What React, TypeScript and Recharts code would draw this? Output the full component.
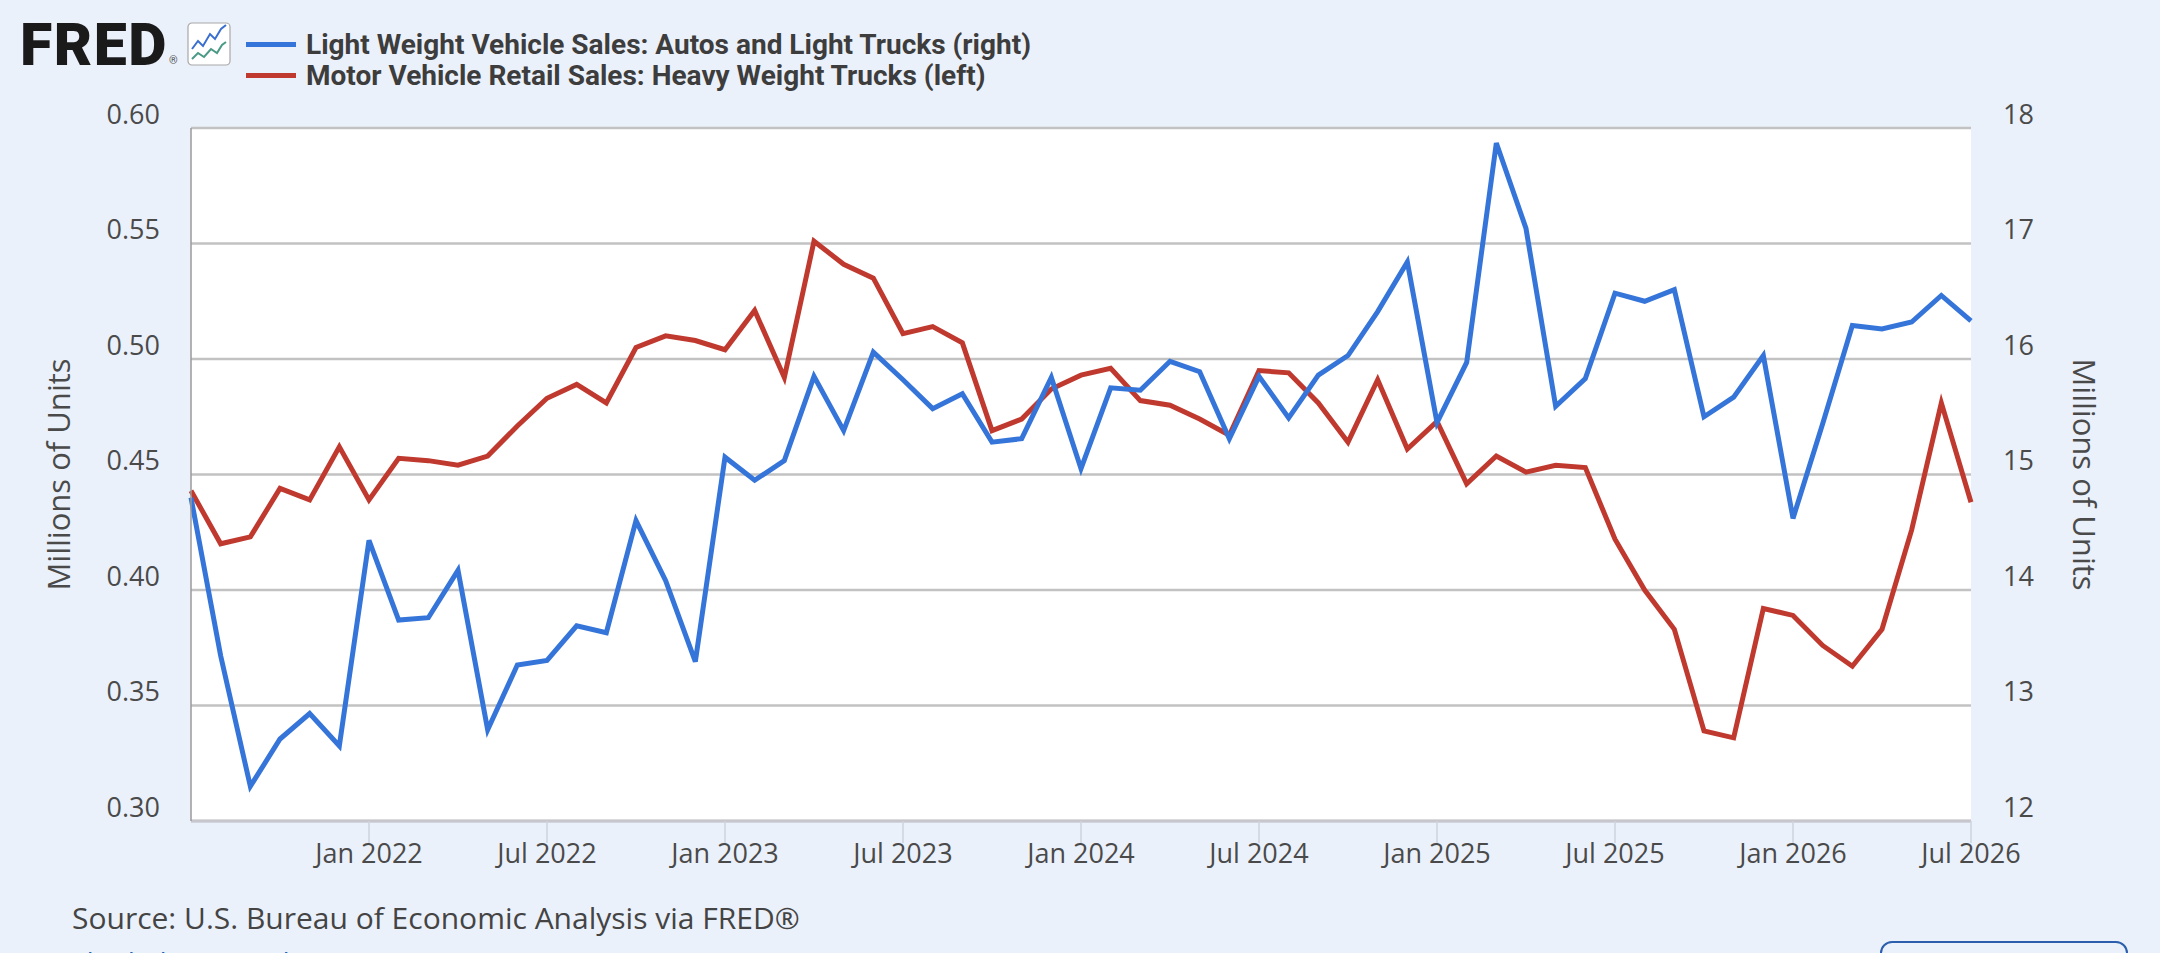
import { LineChart, Line, XAxis, YAxis, CartesianGrid, Label } from 'recharts';

const months = [
  'Jul 2021', 'Aug 2021', 'Sep 2021', 'Oct 2021', 'Nov 2021', 'Dec 2021',
  'Jan 2022', 'Feb 2022', 'Mar 2022', 'Apr 2022', 'May 2022', 'Jun 2022',
  'Jul 2022', 'Aug 2022', 'Sep 2022', 'Oct 2022', 'Nov 2022', 'Dec 2022',
  'Jan 2023', 'Feb 2023', 'Mar 2023', 'Apr 2023', 'May 2023', 'Jun 2023',
  'Jul 2023', 'Aug 2023', 'Sep 2023', 'Oct 2023', 'Nov 2023', 'Dec 2023',
  'Jan 2024', 'Feb 2024', 'Mar 2024', 'Apr 2024', 'May 2024', 'Jun 2024',
  'Jul 2024', 'Aug 2024', 'Sep 2024', 'Oct 2024', 'Nov 2024', 'Dec 2024',
  'Jan 2025', 'Feb 2025', 'Mar 2025', 'Apr 2025', 'May 2025', 'Jun 2025',
  'Jul 2025', 'Aug 2025', 'Sep 2025', 'Oct 2025', 'Nov 2025', 'Dec 2025',
  'Jan 2026', 'Feb 2026', 'Mar 2026', 'Apr 2026', 'May 2026', 'Jun 2026',
  'Jul 2026',
];

// Motor Vehicle Retail Sales: Heavy Weight Trucks (left axis, millions)
const heavyTrucks = [
  0.443, 0.420, 0.423, 0.444, 0.439, 0.462, 0.439, 0.457, 0.456, 0.454,
  0.458, 0.471, 0.483, 0.489, 0.481, 0.505, 0.510, 0.508, 0.504, 0.521,
  0.492, 0.551, 0.541, 0.535, 0.511, 0.514, 0.507, 0.469, 0.474, 0.487,
  0.493, 0.496, 0.482, 0.480, 0.474, 0.467, 0.495, 0.494, 0.481, 0.464,
  0.491, 0.461, 0.473, 0.446, 0.458, 0.451, 0.454, 0.453, 0.422, 0.400,
  0.383, 0.339, 0.336, 0.392, 0.389, 0.376, 0.367, 0.383, 0.426, 0.481,
  0.438,
];

// Light Weight Vehicle Sales: Autos and Light Trucks (right axis, millions)
const lightVehicles = [
  14.80, 13.43, 12.30, 12.71, 12.93, 12.65, 14.43, 13.74, 13.76, 14.17,
  12.79, 13.35, 13.39, 13.69, 13.63, 14.60, 14.08, 13.38, 15.15, 14.95,
  15.12, 15.85, 15.38, 16.06, 15.82, 15.57, 15.70, 15.28, 15.31, 15.84,
  15.05, 15.75, 15.73, 15.98, 15.89, 15.31, 15.85, 15.49, 15.86, 16.03,
  16.41, 16.84, 15.45, 15.97, 17.87, 17.13, 15.59, 15.83, 16.57, 16.50,
  16.60, 15.50, 15.67, 16.03, 14.62, 15.44, 16.29, 16.26, 16.32, 16.55,
  16.33,
];

const xTickLabels = [
  'Jan 2022', 'Jul 2022', 'Jan 2023', 'Jul 2023', 'Jan 2024',
  'Jul 2024', 'Jan 2025', 'Jul 2025', 'Jan 2026', 'Jul 2026',
];
const leftTicks = [0.30, 0.35, 0.40, 0.45, 0.50, 0.55, 0.60];
const rightTicks = [12, 13, 14, 15, 16, 17, 18];

const BLUE = '#3575d9';
const RED = '#c0392f';
const TEXT = '#4a4a4a';
const AXIS_FONT = '"Open Sans", sans-serif';

const data = months.map((month, i) => ({
  i,
  month,
  heavy: heavyTrucks[i],
  light: lightVehicles[i],
}));

const YTick = (props: any) => {
  const { x, y, payload, textAnchor, fmt } = props;
  return (
    <text x={x} y={y - 14} dy="0.36em" textAnchor={textAnchor} fill={TEXT} fontSize={27} fontFamily={AXIS_FONT}>
      {fmt(payload.value)}
    </text>
  );
};

// recharts hands its own angle/offset to label content, so use other prop names
const AxisTitle = (props: any) => {
  const { viewBox, title, shiftX, turn } = props;
  const cx = viewBox.x + shiftX;
  const cy = viewBox.y + viewBox.height / 2;
  return (
    <text
      x={cx}
      y={cy}
      transform={`rotate(${turn}, ${cx}, ${cy})`}
      textAnchor="middle"
      dominantBaseline="central"
      fill={TEXT}
      fontSize={31}
      fontFamily={AXIS_FONT}
    >
      {title}
    </text>
  );
};

const legendItems = [
  { label: 'Light Weight Vehicle Sales: Autos and Light Trucks (right)', color: BLUE },
  { label: 'Motor Vehicle Retail Sales: Heavy Weight Trucks (left)', color: RED },
];

function FredIcon() {
  return (
    <svg width={44} height={44} viewBox="0 0 44 44" style={{ position: 'absolute', left: 187, top: 22 }}>
      <rect x={1} y={1} width={42} height={42} rx={4} fill="#fff" stroke="#a8a8a8" strokeWidth={1.2} />
      <polyline points="5,27 11,19 16,24 23,12 28,17 34,7 39,3" fill="none" stroke="#3a6fd0" strokeWidth={2} />
      <polyline points="5,37 11,31 17,35 24,27 30,31 35,23 39,20" fill="none" stroke="#4a9a86" strokeWidth={2} />
    </svg>
  );
}

export default function App() {
  return (
    <div
      style={{
        position: 'absolute',
        left: 0,
        top: 0,
        width: 2160,
        height: 953,
        overflow: 'hidden',
        background: '#ebf1fa',
        fontFamily: 'Roboto, sans-serif',
      }}
    >
      {/* header: logo + legend */}
      <div
        style={{
          position: 'absolute',
          left: 20,
          top: 15,
          fontSize: 59,
          lineHeight: '59px',
          fontWeight: 900,
          color: '#1a1a1a',
          letterSpacing: 1.5,
        }}
      >
        FRED
      </div>
      <div style={{ position: 'absolute', left: 169, top: 54, fontSize: 11, color: '#555' }}>®</div>
      <FredIcon />

      <div style={{ position: 'absolute', left: 246, top: 29 }}>
        {legendItems.map((item) => (
          <div key={item.label} style={{ display: 'flex', alignItems: 'center', height: 31 }}>
            <div style={{ width: 50, height: 5, background: item.color, marginRight: 10 }} />
            <span style={{ fontSize: 28, fontWeight: 700, color: '#3d3d3d', lineHeight: '31px', whiteSpace: 'nowrap' }}>
              {item.label}
            </span>
          </div>
        ))}
      </div>

      <div style={{ position: 'absolute', left: 0, top: 0 }}>
        <LineChart width={2160} height={953} data={data} margin={{ top: 128, right: 0, bottom: 0, left: 0 }}>
          <CartesianGrid yAxisId="left" vertical={false} stroke="#c2c2c2" strokeWidth={2.5} fill="#ffffff" />
          <XAxis
            dataKey="i"
            type="number"
            domain={[0, months.length - 1]}
            ticks={xTickLabels.map((t) => months.indexOf(t))}
            tickFormatter={(v) => months[v]}
            height={132}
            tickSize={22}
            tickMargin={1}
            axisLine={{ stroke: '#c6c6cc', strokeWidth: 3 }}
            tickLine={{ stroke: '#cdd3dc', strokeWidth: 1.5 }}
            tick={{ fill: TEXT, fontSize: 27, fontFamily: AXIS_FONT }}
            interval={0}
          />
          <YAxis
            yAxisId="left"
            orientation="left"
            width={191}
            domain={[0.3, 0.6]}
            ticks={leftTicks}
            allowDataOverflow
            tickSize={0}
            tickMargin={31}
            axisLine={{ stroke: '#9a9a9a', strokeWidth: 1.5 }}
            tickLine={false}
            tick={<YTick fmt={(v: number) => v.toFixed(2)} />}
            interval={0}
          >
            <Label content={<AxisTitle shiftX={58} turn={-90} title="Millions of Units" />} />
          </YAxis>
          <YAxis
            yAxisId="right"
            orientation="right"
            width={189}
            domain={[12, 18]}
            ticks={rightTicks}
            allowDataOverflow
            tickSize={0}
            tickMargin={32}
            axisLine={false}
            tickLine={false}
            tick={<YTick fmt={(v: number) => String(v)} />}
            interval={0}
          >
            <Label content={<AxisTitle shiftX={114} turn={90} title="Millions of Units" />} />
          </YAxis>
          <Line
            yAxisId="left"
            type="linear"
            dataKey="heavy"
            stroke={RED}
            strokeWidth={5}
            dot={false}
            isAnimationActive={false}
          />
          <Line
            yAxisId="right"
            type="linear"
            dataKey="light"
            stroke={BLUE}
            strokeWidth={5}
            dot={false}
            isAnimationActive={false}
          />
        </LineChart>
      </div>

      <div
        style={{
          position: 'absolute',
          left: 72,
          top: 901,
          fontSize: 30,
          lineHeight: '33px',
          color: '#444',
          fontFamily: AXIS_FONT,
        }}
      >
        Source: U.S. Bureau of Economic Analysis via FRED®
      </div>
      <div
        style={{
          position: 'absolute',
          left: 72,
          top: 948,
          fontSize: 27,
          lineHeight: '30px',
          color: '#2b5fae',
          fontFamily: AXIS_FONT,
        }}
      >
        Shaded areas indicate U.S. recessions.
      </div>
      <div
        style={{
          position: 'absolute',
          left: 1880,
          top: 941,
          width: 248,
          height: 40,
          border: '2px solid #2b5fae',
          borderRadius: 12,
          boxSizing: 'border-box',
        }}
      />
    </div>
  );
}
